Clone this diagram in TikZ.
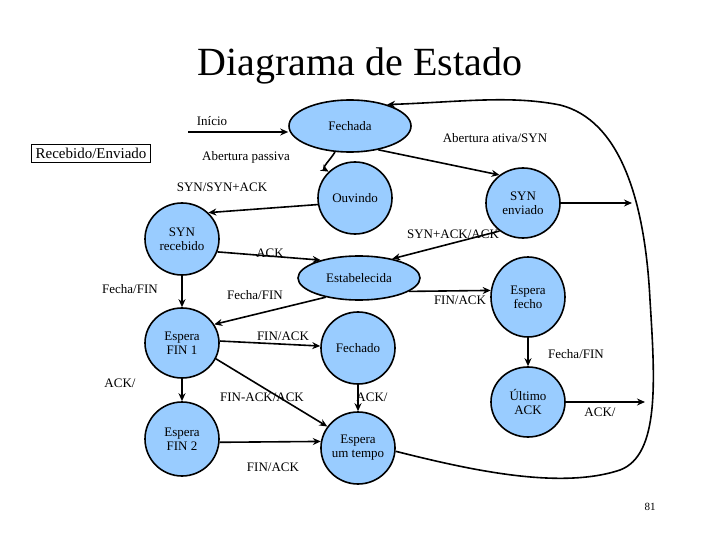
\documentclass[tikz,border=0pt]{standalone}
\usepackage{fontspec}
\setmainfont{Liberation Serif}
\usetikzlibrary{arrows.meta,shapes.geometric}
\definecolor{st}{RGB}{153,204,255}
\begin{document}
\begin{tikzpicture}[x=1pt,y=-1pt,
  s/.style={ellipse,draw,line width=1.6pt,fill=st,minimum width=74pt,minimum height=72pt,inner sep=0pt,align=center,font=\fontsize{13}{14}\selectfont},
  lb/.style={font=\fontsize{13}{14}\selectfont,inner sep=0pt},
  a/.style={line width=1.6pt,-{Stealth[length=8pt,width=7pt]}}]
\useasboundingbox[fill=white] (0,0) rectangle (720,540);
\node[font=\fontsize{40}{44}\selectfont] (title) at (360,66) {Diagrama de Estado};
\node[draw,lb,inner sep=4pt,font=\fontsize{15}{16}\selectfont] (box) at (91,153) {Recebido/Enviado};
\node[s,minimum width=122pt,minimum height=52pt] (fec) at (350,126) {Fechada};
\node[s] (ouv) at (355,198) {Ouvindo};
\node[s] (synr) at (182,239) {SYN\\recebido};
\node[s,minimum height=70pt] (syne) at (523,203) {SYN\\enviado};
\node[s,minimum width=122pt,minimum height=44pt] (est) at (359,278) {Estabelecida};
\node[s,minimum height=80pt] (efe) at (528,297) {Espera\\fecho};
\node[s,minimum height=70pt] (ef1) at (182,343) {Espera\\FIN 1};
\node[s] (fdo) at (358,348) {Fechado};
\node[s,minimum height=74pt] (ef2) at (182,439) {Espera\\FIN 2};
\node[s] (emt) at (358,448) {Espera\\um tempo};
\node[s,minimum height=70pt] (ult) at (528,402) {Último\\ACK};
\coordinate (i0) at (188,132);
\coordinate (c1) at (632,203);
\coordinate (c2) at (645,402);
\draw[a] (i0) -- (fec.west |- i0);
\node[lb] (l1) at (212,121) {Início};
\draw[a] (fec.240) to[out=-120,in=150] (ouv.135);
\node[lb] (l2) at (246,157) {Abertura passiva};
\draw[a] (fec.-40) -- (syne.130);
\node[lb] (l3) at (495,138) {Abertura ativa/SYN};
\draw[a] (ouv.190) -- (synr.45);
\node[lb] (l4) at (222,187) {SYN/SYN+ACK};
\draw[a] (syne.east) -- (c1);
\draw[a] (syne.230) -- (est.30);
\node[lb] (l5) at (453,234) {SYN+ACK/ACK};
\draw[a] (synr.-20) -- (est.155);
\node[lb] (l6) at (270,253) {ACK};
\draw[a] (est.-15) -- (efe.170);
\node[lb] (l7) at (460,300) {FIN/ACK};
\draw[a] (est.210) -- (ef1.30);
\node[lb] (l8) at (255,295) {Fecha/FIN};
\draw[a] (synr.south) -- (ef1.north);
\node[lb] (l9) at (130,289) {Fecha/FIN};
\draw[a] (ef1.3) -- (fdo.177);
\node[lb] (l10) at (283,336) {FIN/ACK};
\draw[a] (ef1.-25) -- (emt.145);
\node[lb] (l11) at (262,397) {FIN-ACK/ACK};
\draw[a] (ef1.south) -- (ef2.north);
\node[lb] (l12) at (120,383) {ACK/};
\draw[a] (ef2.-5) -- (emt.170);
\node[lb] (l13) at (273,467) {FIN/ACK};
\draw[a] (fdo.south) -- (emt.north);
\node[lb] (l14) at (372,397) {ACK/};
\draw[a] (efe.south) -- (ult.north);
\node[lb] (l15) at (576,354) {Fecha/FIN};
\draw[a] (ult.east) -- (c2);
\node[lb] (l16) at (600,412) {ACK/};
\draw[a] (emt.-5) .. controls (470,470) and (560,490) .. (620,470)
  .. controls (660,455) and (655,380) .. (650,300)
  .. controls (645,200) and (620,120) .. (560,105)
  .. controls (510,95) and (460,102) .. (fec.30);
\node[font=\fontsize{11}{12}\selectfont] (pg) at (650,507) {81};
\end{tikzpicture}
\end{document}
